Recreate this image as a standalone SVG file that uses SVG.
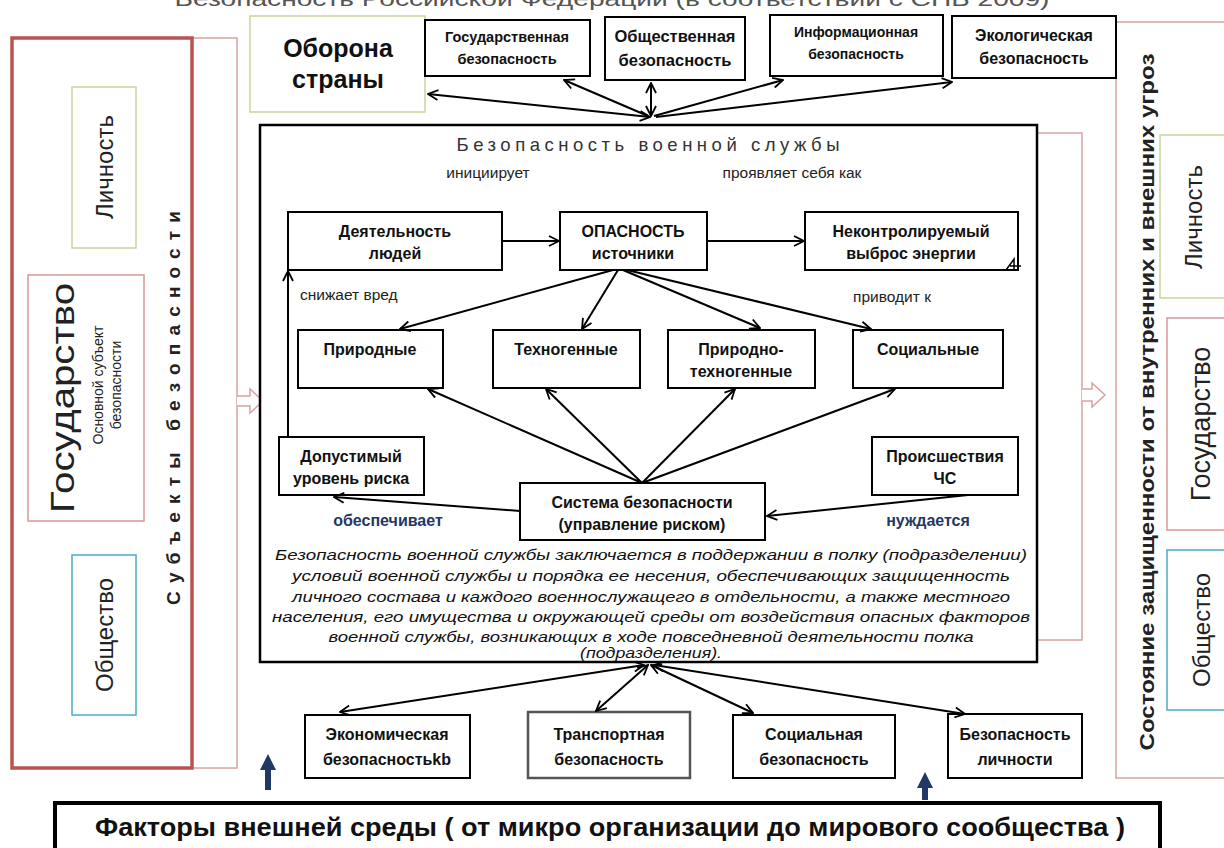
<svg xmlns="http://www.w3.org/2000/svg" width="1224" height="848" viewBox="0 0 1224 848">
<defs>
<marker id="ah" viewBox="0 0 12 12" refX="11" refY="6" markerWidth="12" markerHeight="12" orient="auto-start-reverse" markerUnits="userSpaceOnUse"><path d="M1,1 L11,6 L1,11" fill="none" stroke="#000" stroke-width="1.8"/></marker>
<style>
.box{fill:#fff;stroke:#000;stroke-width:2}
.bt{font-family:"Liberation Sans",Arial,sans-serif;font-weight:bold;font-size:16px;fill:#111;text-anchor:middle}
.lbl{font-family:"Liberation Sans",Arial,sans-serif;font-size:15.5px;fill:#222;text-anchor:middle}
.blu{font-family:"Liberation Sans",Arial,sans-serif;font-weight:bold;font-size:16px;fill:#1f3864;text-anchor:middle}
.par{font-family:"Liberation Sans Narrow","Liberation Sans",Arial,sans-serif;font-style:italic;font-size:15.5px;fill:#111;text-anchor:middle}
.con{fill:none;stroke:#000;stroke-width:2}
.side{font-family:"Liberation Sans",Arial,sans-serif;fill:#222;text-anchor:middle}
.pk{fill:none;stroke:#d8a3a1;stroke-width:1.5}
</style>
</defs>
<rect width="1224" height="848" fill="#fff"/>

<text x="612" y="6" class="side" style="font-size:20px;fill:#555" textLength="875" lengthAdjust="spacingAndGlyphs">Безопасность Российской Федерации (в соответствии с СНБ 2009)</text>

<!-- left panel -->
<g id="left-panel">
<rect x="12" y="38" width="225" height="730" class="pk"/>
<rect x="12" y="38" width="180" height="730" fill="none" stroke="#b85450" stroke-width="3.5"/>
<path d="M237,396 L250,396 L250,389 L263,401 L250,413 L250,406 L237,406" fill="#fff" stroke="#d8a3a1" stroke-width="1.5"/>
</g>
<g id="left-lichnost">
<rect x="72" y="87" width="64" height="161" fill="#fff" stroke="#c3d69b" stroke-width="1.5"/>
<text transform="translate(113,167) rotate(-90)" class="side" style="font-size:24px">Личность</text>
</g>
<g id="left-gosudarstvo">
<rect x="28" y="275" width="116" height="246" fill="#fff" stroke="#d99694" stroke-width="1.5"/>
<text transform="translate(74,398) rotate(-90)" class="side" style="font-size:34px" textLength="230" lengthAdjust="spacingAndGlyphs">Государство</text>
<text transform="translate(103,385) rotate(-90)" class="side" style="font-size:14px">Основной субъект</text>
<text transform="translate(121,385) rotate(-90)" class="side" style="font-size:14px">безопасности</text>
</g>
<g id="left-obshchestvo">
<rect x="72" y="555" width="64" height="160" fill="#fff" stroke="#4bacc6" stroke-width="1.5"/>
<text transform="translate(113,635) rotate(-90)" class="side" style="font-size:24px">Общество</text>
</g>
<text transform="translate(180,405) rotate(-90)" class="side" style="font-size:19px;font-weight:bold" letter-spacing="6" textLength="400">Субъекты  безопасности</text>

<!-- right panel -->
<g id="right-panel">
<rect x="1116" y="22" width="120" height="756" class="pk"/>
<path d="M1037,133 L1082,133 L1082,640 L1037,640" class="pk"/>
<path d="M1082,389 L1092,389 L1092,383 L1105,395 L1092,407 L1092,401 L1082,401" fill="#fff" stroke="#d8a3a1" stroke-width="1.5"/>
<text transform="translate(1154,402) rotate(-90)" class="side" style="font-size:20px;font-weight:bold" textLength="697" lengthAdjust="spacingAndGlyphs">Состояние  защищенности от внутренних и внешних угроз</text>
</g>
<g id="right-lichnost">
<rect x="1160" y="135" width="70" height="163" fill="#fff" stroke="#c3d69b" stroke-width="1.5"/>
<text transform="translate(1202,217) rotate(-90)" class="side" style="font-size:24px">Личность</text>
</g>
<g id="right-gosudarstvo">
<rect x="1167" y="318" width="70" height="212" fill="#fff" stroke="#d99694" stroke-width="1.5"/>
<text transform="translate(1210,424) rotate(-90)" class="side" style="font-size:27px">Государство</text>
</g>
<g id="right-obshchestvo">
<rect x="1167" y="550" width="70" height="160" fill="#fff" stroke="#4bacc6" stroke-width="1.5"/>
<text transform="translate(1210,630) rotate(-90)" class="side" style="font-size:24px">Общество</text>
</g>

<!-- top row -->
<g id="oborona">
<rect x="250" y="16" width="175" height="96" fill="#fff" stroke="#c3d69b" stroke-width="1.5"/>
<text x="338" y="57" class="bt" style="font-size:25px">Оборона</text>
<text x="338" y="88" class="bt" style="font-size:25px">страны</text>
</g>
<g id="gos-bez">
<rect x="425" y="20" width="165" height="56" class="box"/>
<text x="507" y="42" class="bt" style="font-size:14.5px">Государственная</text>
<text x="507" y="64" class="bt" style="font-size:14.5px">безопасность</text>
</g>
<g id="obsh-bez">
<rect x="605" y="17" width="140" height="63" class="box"/>
<text x="675" y="42" class="bt" style="font-size:16.5px">Общественная</text>
<text x="675" y="66" class="bt" style="font-size:16.5px">безопасность</text>
</g>
<g id="inf-bez">
<rect x="770" y="15" width="173" height="61" class="box"/>
<text x="856" y="37" class="bt" style="font-size:14px">Информационная</text>
<text x="856" y="59" class="bt" style="font-size:14px">безопасность</text>
</g>
<g id="eko-bez">
<rect x="952" y="16" width="164" height="62" class="box"/>
<text x="1034" y="41" class="bt" style="font-size:16px">Экологическая</text>
<text x="1034" y="64" class="bt" style="font-size:16px">безопасность</text>
</g>

<!-- main box -->
<g id="main">
<rect x="260" y="125" width="777" height="537" fill="#fff" stroke="#000" stroke-width="2.5"/>
<text x="648" y="151" class="side" style="font-size:18.5px;fill:#333" textLength="383" lengthAdjust="spacing">Безопасность  военной  службы</text>
<text x="488" y="178" class="lbl">инициирует</text>
<text x="792" y="178" class="lbl">проявляет себя как</text>
<text x="300" y="300" class="lbl" style="text-anchor:start">снижает вред</text>
<text x="892" y="302" class="lbl">приводит к</text>
<text x="388" y="526" class="blu">обеспечивает</text>
<text x="928" y="526" class="blu">нуждается</text>
<text x="651" y="560" class="par" textLength="752" lengthAdjust="spacingAndGlyphs">Безопасность  военной службы заключается  в поддержании в полку (подразделении)</text>
<text x="651" y="581" class="par" textLength="718" lengthAdjust="spacingAndGlyphs">условий военной  службы и порядка  ее несения, обеспечивающих  защищенность</text>
<text x="651" y="602" class="par" textLength="718" lengthAdjust="spacingAndGlyphs">личного состава и каждого военнослужащего  в отдельности, а также местного</text>
<text x="651" y="622" class="par" textLength="758" lengthAdjust="spacingAndGlyphs">населения, его имущества и окружающей  среды от воздействия опасных факторов</text>
<text x="651" y="642" class="par" textLength="645" lengthAdjust="spacingAndGlyphs">военной службы, возникающих  в ходе повседневной деятельности полка</text>
<text x="651" y="658" class="par" textLength="142" lengthAdjust="spacingAndGlyphs">(подразделения).</text>
</g>
<g id="deyat">
<rect x="288" y="212" width="214" height="58" class="box"/>
<text x="395" y="237" class="bt">Деятельность</text>
<text x="395" y="259" class="bt">людей</text>
</g>
<g id="opasnost">
<rect x="560" y="212" width="147" height="58" class="box"/>
<text x="633" y="237" class="bt">ОПАСНОСТЬ</text>
<text x="633" y="259" class="bt">источники</text>
</g>
<g id="nekontr">
<rect x="805" y="212" width="213" height="58" class="box"/>
<text x="911" y="237" class="bt">Неконтролируемый</text>
<text x="911" y="259" class="bt">выброс энергии</text>
<path d="M1006,270 L1014,259 L1014,270 M1010,266 L1021,266" fill="none" stroke="#000" stroke-width="1.5"/>
</g>
<g id="prirodnye">
<rect x="298" y="330" width="145" height="58" class="box"/>
<text x="370" y="355" class="bt">Природные</text>
</g>
<g id="tehnogennye">
<rect x="493" y="330" width="147" height="58" class="box"/>
<text x="566" y="355" class="bt">Техногенные</text>
</g>
<g id="prir-teh">
<rect x="668" y="330" width="147" height="58" class="box"/>
<text x="741" y="355" class="bt">Природно-</text>
<text x="741" y="377" class="bt">техногенные</text>
</g>
<g id="socialnye">
<rect x="853" y="330" width="150" height="58" class="box"/>
<text x="928" y="355" class="bt">Социальные</text>
</g>
<g id="dopust">
<rect x="279" y="437" width="145" height="58" class="box"/>
<text x="351" y="462" class="bt">Допустимый</text>
<text x="351" y="484" class="bt">уровень риска</text>
</g>
<g id="proissh">
<rect x="872" y="437" width="146" height="58" class="box"/>
<text x="945" y="462" class="bt">Происшествия</text>
<text x="945" y="484" class="bt">ЧС</text>
</g>
<g id="sistema">
<rect x="520" y="483" width="245" height="57" class="box"/>
<text x="642" y="508" class="bt">Система безопасности</text>
<text x="642" y="530" class="bt">(управление риском)</text>
</g>

<!-- bottom row -->
<g id="ekon-bez">
<rect x="305" y="715" width="165" height="63" class="box"/>
<text x="387" y="740" class="bt">Экономическая</text>
<text x="387" y="765" class="bt">безопасностьkb</text>
</g>
<g id="trans-bez">
<rect x="528" y="712" width="162" height="66" fill="#fff" stroke="#555" stroke-width="2.5"/>
<text x="609" y="740" class="bt">Транспортная</text>
<text x="609" y="765" class="bt">безопасность</text>
</g>
<g id="soc-bez">
<rect x="733" y="715" width="162" height="63" class="box"/>
<text x="814" y="740" class="bt">Социальная</text>
<text x="814" y="765" class="bt">безопасность</text>
</g>
<g id="lich-bez">
<rect x="948" y="714" width="134" height="64" class="box"/>
<text x="1015" y="740" class="bt">Безопасность</text>
<text x="1015" y="765" class="bt">личности</text>
</g>

<g id="factors">
<rect x="55" y="803" width="1105" height="60" fill="#fff" stroke="#000" stroke-width="4"/>
<text x="610" y="836" class="bt" style="font-size:25px" textLength="1030" lengthAdjust="spacingAndGlyphs">Факторы внешней среды  ( от микро организации до мирового сообщества )</text>
</g>
<g id="blue-arrows" fill="#1f3864">
<path d="M268,754 L276,770 L271,770 L271,790 L265,790 L265,770 L260,770 Z"/>
<path d="M925,772 L933,788 L928,788 L928,800 L922,800 L922,788 L917,788 Z"/>
</g>

<!-- connectors -->
<g id="connectors" class="con">
<path d="M650,117 L428,94" marker-start="url(#ah)" marker-end="url(#ah)"/>
<path d="M648,116 L564,80" marker-end="url(#ah)"/>
<path d="M651,116 L651,83" marker-start="url(#ah)" marker-end="url(#ah)"/>
<path d="M654,116 L783,80" marker-end="url(#ah)"/>
<path d="M656,117 L952,82" marker-end="url(#ah)"/>
<path d="M502,241 L559,241" marker-end="url(#ah)"/>
<path d="M707,241 L804,241" marker-end="url(#ah)"/>
<path d="M613,270 L400,329" marker-end="url(#ah)"/>
<path d="M618,270 L582,329" marker-end="url(#ah)"/>
<path d="M623,270 L760,328" marker-end="url(#ah)"/>
<path d="M627,270 L871,329" marker-end="url(#ah)"/>
<path d="M288,437 L288,271" marker-end="url(#ah)"/>
<path d="M642,483 L428,389" marker-end="url(#ah)"/>
<path d="M642,483 L546,389" marker-end="url(#ah)"/>
<path d="M642,483 L735,389" marker-end="url(#ah)"/>
<path d="M642,483 L895,389" marker-end="url(#ah)"/>
<path d="M520,511 L334,497" marker-end="url(#ah)"/>
<path d="M968,495 L767,516" marker-end="url(#ah)"/>
<path d="M644,665 L340,712" marker-start="url(#ah)" marker-end="url(#ah)"/>
<path d="M648,665 L596,711" marker-start="url(#ah)" marker-end="url(#ah)"/>
<path d="M651,665 L753,713" marker-start="url(#ah)" marker-end="url(#ah)"/>
<path d="M654,665 L965,714" marker-start="url(#ah)" marker-end="url(#ah)"/>
</g>
</svg>
